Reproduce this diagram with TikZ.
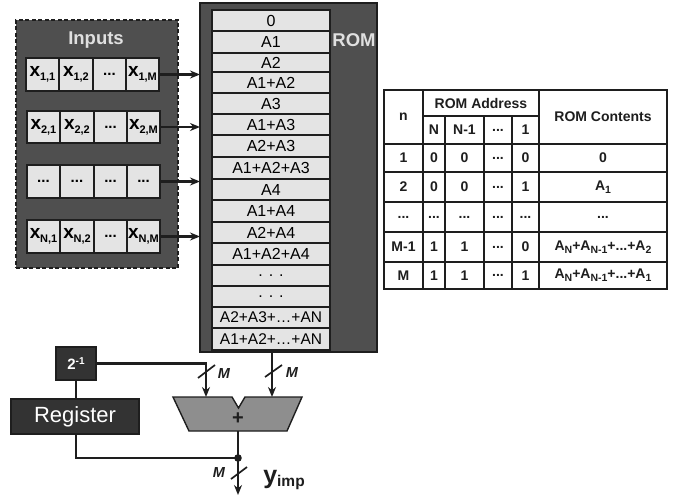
\documentclass[tikz,border=0pt]{standalone}
\usepackage{fontspec}
\setmainfont{Liberation Sans}
\usetikzlibrary{arrows.meta}
\definecolor{panel}{HTML}{4F4F4F}
\definecolor{cellg}{HTML}{E4E4E4}
\definecolor{edge}{HTML}{1E1E1E}
\definecolor{darkb}{HTML}{333333}
\definecolor{addg}{HTML}{8E8E8E}
\newcommand{\fs}[1]{\fontsize{#1}{#1}\selectfont}
\newcommand{\lowtxt}[2]{\raisebox{-0.4ex}{\fs{#1}#2}}
\newcommand{\xv}[1]{{\fs{19}\bfseries x\kern-0.2pt\lowtxt{11}{#1}}}
\newcommand{\an}[1]{A\lowtxt{10.5}{#1}}
\newcommand{\dts}{{\fs{15}\bfseries ...}}
% name, x1, y1, x2, y2, style, text
\newcommand{\bx}[7]{\node[#6, minimum width={#4-#2}, minimum height={#5-#3}] (#1) at ({(#2+#4)/2},{(#3+#5)/2}) {#7};}
\tikzset{
  x=1pt,y=-1pt,
  base/.style={inner sep=0pt,outer sep=0pt,text=black},
  inpanel/.style={base,draw=edge,fill=panel,dash pattern=on 4pt off 2.5pt,line width=1.6pt},
  rompanel/.style={base,draw=edge,fill=panel,line width=1.6pt},
  incell/.style={base,draw=edge,fill=cellg,line width=1.4pt},
  romcell/.style={base,draw=edge,fill=cellg,line width=1.4pt,font=\fs{16}},
  tcell/.style={base,draw=edge,fill=white,line width=1.5pt,font=\fs{14}\bfseries,text=edge},
  darkbox/.style={base,draw=edge,fill=darkb,line width=1.4pt,text=white},
  wire/.style={draw=edge,line width=2.1pt},
  arw/.style={wire,-{Stealth[length=10pt,width=8pt]}},
  lab/.style={base,text=white!88!black,font=\fs{18.5}\bfseries},
  mlab/.style={base,text=edge,font=\fs{14.5}\bfseries\itshape}
}
\begin{document}
\begin{tikzpicture}
\useasboundingbox (0,0) rectangle (678,495);
% Inputs
\bx{inp}{16}{20}{178}{268}{inpanel}{}
\node[lab] (inlab) at (96,40) {Inputs};
\bx{a1}{26}{58}{59}{91}{incell}{\xv{1,1}}
\bx{a2}{59}{58}{93}{91}{incell}{\xv{1,2}}
\bx{a3}{93}{58}{126}{91}{incell}{\dts}
\bx{a4}{126}{58}{159}{91}{incell}{\xv{1,M}}
\bx{b1}{27}{111}{60}{143}{incell}{\xv{2,1}}
\bx{b2}{60}{111}{94}{143}{incell}{\xv{2,2}}
\bx{b3}{94}{111}{127}{143}{incell}{\dts}
\bx{b4}{127}{111}{160}{143}{incell}{\xv{2,M}}
\bx{c1}{27}{165}{60}{198}{incell}{\dts}
\bx{c2}{60}{165}{94}{198}{incell}{\dts}
\bx{c3}{94}{165}{127}{198}{incell}{\dts}
\bx{c4}{127}{165}{160}{198}{incell}{\dts}
\bx{d1}{27}{220}{60}{253}{incell}{\xv{N,1}}
\bx{d2}{60}{220}{94}{253}{incell}{\xv{N,2}}
\bx{d3}{94}{220}{127}{253}{incell}{\dts}
\bx{d4}{127}{220}{160}{253}{incell}{\xv{N,M}}
% ROM
\bx{rom}{200}{3}{377}{352}{rompanel}{}
\node[lab] (romlab) at (354,40) {ROM};
\bx{r0}{212}{10}{330}{31}{romcell}{0}
\bx{r1}{212}{31}{330}{53}{romcell}{A1}
\bx{r2}{212}{53}{330}{72}{romcell}{A2}
\bx{r3}{212}{72}{330}{93}{romcell}{A1+A2}
\bx{r4}{212}{93}{330}{114}{romcell}{A3}
\bx{r5}{212}{114}{330}{135}{romcell}{A1+A3}
\bx{r6}{212}{135}{330}{157}{romcell}{A2+A3}
\bx{r7}{212}{157}{330}{179}{romcell}{A1+A2+A3}
\bx{r8}{212}{179}{330}{200}{romcell}{A4}
\bx{r9}{212}{200}{330}{222}{romcell}{A1+A4}
\bx{r10}{212}{222}{330}{243}{romcell}{A2+A4}
\bx{r11}{212}{243}{330}{265}{romcell}{A1+A2+A4}
\bx{r12}{212}{265}{330}{286}{romcell}{. . .}
\bx{r13}{212}{286}{330}{307}{romcell}{. . .}
\bx{r14}{212}{307}{330}{328}{romcell}{\fs{15.5}A2+A3+…+AN}
\bx{r15}{212}{328}{330}{350}{romcell}{\fs{15.5}A1+A2+…+AN}
\coordinate (t1) at (rom.west |- a4.east);
\coordinate (t2) at (rom.west |- b4.east);
\coordinate (t3) at (rom.west |- c4.east);
\coordinate (t4) at (rom.west |- d4.east);
\draw[arw] (a4.east) -- (t1);
\draw[arw] (b4.east) -- (t2);
\draw[arw] (c4.east) -- (t3);
\draw[arw] (d4.east) -- (t4);
% lower part
\bx{pw}{56}{347}{96}{380}{darkbox}{\fs{15}\bfseries 2\raisebox{0.55ex}{\fs{10}-1}}
\bx{reg}{11}{399}{139}{434}{darkbox}{\fs{22}Register}
\draw[draw=edge,fill=addg,line width=1.4pt] (173,397) -- (232,397) -- (238.5,408) -- (245,397) -- (302,397) -- (287,431) -- (189,431) -- cycle;
\node[base,text=edge,font=\fs{20}\bfseries] (plus) at (238,419) {+};
\coordinate (addl) at (206,397);
\coordinate (addr) at (272,397);
\coordinate (addb) at (238,431);
\coordinate (romb) at (272,352);
\coordinate (dot) at (238,458);
\coordinate (out) at (238,495);
\coordinate (regtop) at (pw.south |- reg.north);
\coordinate (regbot) at (pw.south |- reg.south);
\draw[wire] (pw.south) -- (regtop);
\draw[arw] (pw.east) -| (addl);
\draw[arw] (romb) -- (addr);
\draw[wire] (addb) -- (dot);
\draw[wire] (regbot) |- (dot);
\draw[arw] (dot) -- (out);
\fill[edge] (dot) circle (3.8);
% slashes
\draw[wire,line width=1.7pt] (198,378) -- (215,365);
\draw[wire,line width=1.7pt] (265,377) -- (282,365);
\draw[wire,line width=1.7pt] (231,479) -- (247,467);
\node[mlab] (m1) at (224,374) {M};
\node[mlab] (m2) at (292,373) {M};
\node[mlab] (m3) at (219,473) {M};
\node[base,text=edge] (yimp) at (284,480) {\fs{25}\bfseries y\raisebox{-0.3ex}{\fs{15.5}imp}};
% table
\bx{tn}{384}{90}{423}{144}{tcell}{n}
\bx{ta}{423}{90}{539}{116}{tcell}{ROM Address}
\bx{tc}{539}{90}{667}{144}{tcell}{ROM Contents}
\bx{h1}{423}{116}{445}{144}{tcell}{N}
\bx{h2}{445}{116}{484}{144}{tcell}{N-1}
\bx{h3}{484}{116}{512}{144}{tcell}{...}
\bx{h4}{512}{116}{539}{144}{tcell}{1}
\bx{p0}{384}{144}{423}{172}{tcell}{1}
\bx{p1}{423}{144}{445}{172}{tcell}{0}
\bx{p2}{445}{144}{484}{172}{tcell}{0}
\bx{p3}{484}{144}{512}{172}{tcell}{...}
\bx{p4}{512}{144}{539}{172}{tcell}{0}
\bx{p5}{539}{144}{667}{172}{tcell}{0}
\bx{q0}{384}{172}{423}{202}{tcell}{2}
\bx{q1}{423}{172}{445}{202}{tcell}{0}
\bx{q2}{445}{172}{484}{202}{tcell}{0}
\bx{q3}{484}{172}{512}{202}{tcell}{...}
\bx{q4}{512}{172}{539}{202}{tcell}{1}
\bx{q5}{539}{172}{667}{202}{tcell}{\an{1}}
\bx{s0}{384}{202}{423}{232}{tcell}{...}
\bx{s1}{423}{202}{445}{232}{tcell}{...}
\bx{s2}{445}{202}{484}{232}{tcell}{...}
\bx{s3}{484}{202}{512}{232}{tcell}{...}
\bx{s4}{512}{202}{539}{232}{tcell}{...}
\bx{s5}{539}{202}{667}{232}{tcell}{...}
\bx{u0}{384}{232}{423}{262}{tcell}{M-1}
\bx{u1}{423}{232}{445}{262}{tcell}{1}
\bx{u2}{445}{232}{484}{262}{tcell}{1}
\bx{u3}{484}{232}{512}{262}{tcell}{...}
\bx{u4}{512}{232}{539}{262}{tcell}{0}
\bx{u5}{539}{232}{667}{262}{tcell}{\an{N}+\an{N-1}+...+\an{2}}
\bx{v0}{384}{262}{423}{289}{tcell}{M}
\bx{v1}{423}{262}{445}{289}{tcell}{1}
\bx{v2}{445}{262}{484}{289}{tcell}{1}
\bx{v3}{484}{262}{512}{289}{tcell}{...}
\bx{v4}{512}{262}{539}{289}{tcell}{1}
\bx{v5}{539}{262}{667}{289}{tcell}{\an{N}+\an{N-1}+...+\an{1}}
\end{tikzpicture}
\end{document}
